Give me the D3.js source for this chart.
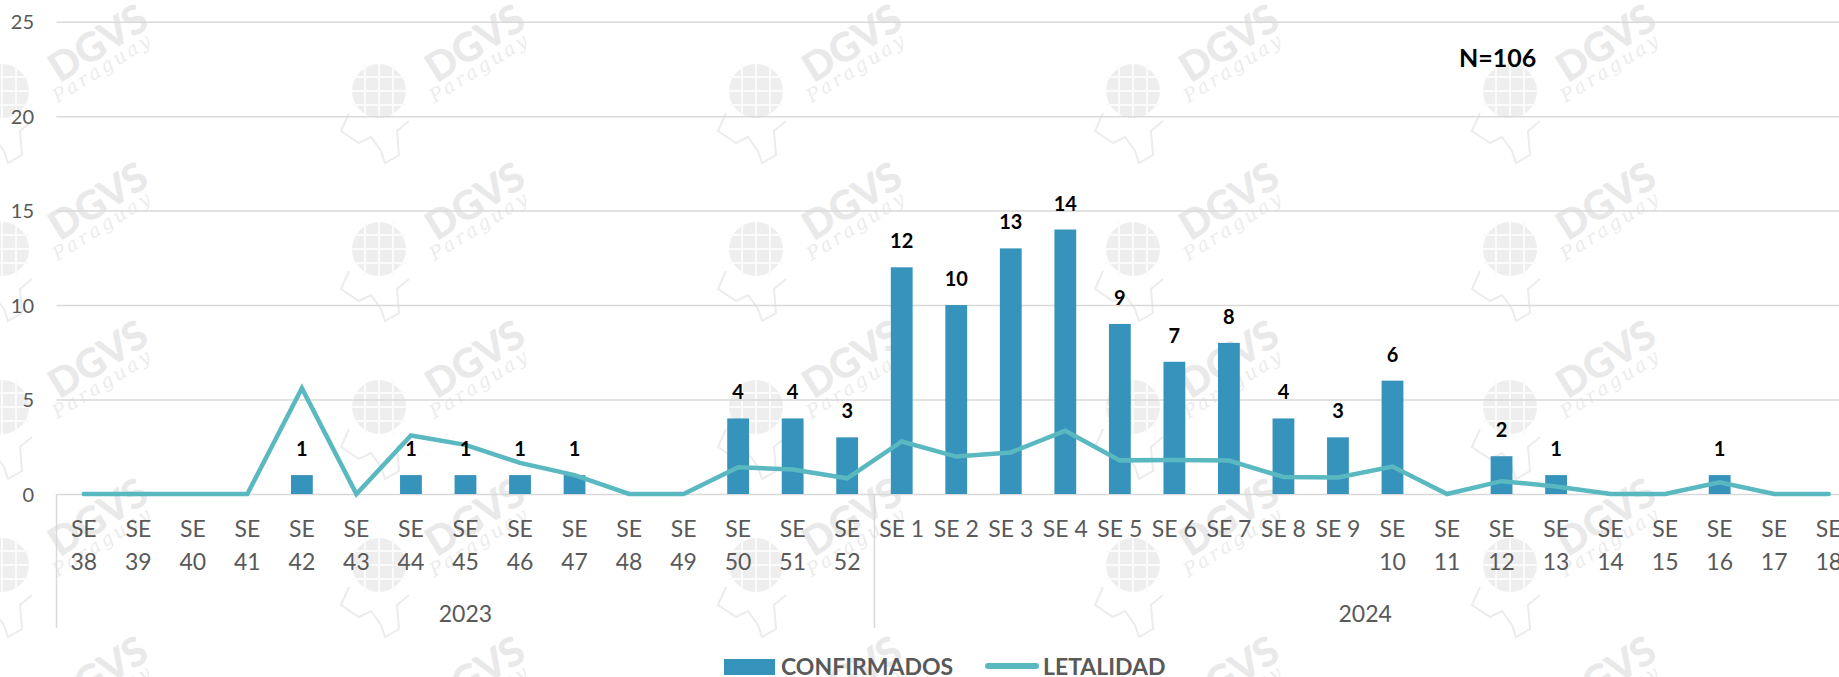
<!DOCTYPE html>
<html>
<head>
<meta charset="utf-8">
<script src="https://cdn.jsdelivr.net/npm/d3@7"></script>
<style>
  html, body { margin: 0; padding: 0; background: #ffffff; }
  svg { display: block; }
  text { font-family: Lato, "Open Sans", sans-serif; }
</style>
</head>
<body>
<svg id="chart" width="1839" height="677"></svg>
<script>
// ---------------- data ----------------
const yearLabels = ["2023", "2024"];
const weeks2023 = ["SE 38","SE 39","SE 40","SE 41","SE 42","SE 43","SE 44","SE 45","SE 46","SE 47","SE 48","SE 49","SE 50","SE 51","SE 52"];
const weeks2024 = ["SE 1","SE 2","SE 3","SE 4","SE 5","SE 6","SE 7","SE 8","SE 9","SE 10","SE 11","SE 12","SE 13","SE 14","SE 15","SE 16","SE 17","SE 18"];
const confirmados = [0,0,0,0,1,0,1,1,1,1,0,0,4,4,3,
                     12,10,13,14,9,7,8,4,3,6,0,2,1,0,0,1,0,0];
const letalidad   = [0,0,0,0,5.6,0,3.1,2.6,1.65,1.0,0,0,1.42,1.3,0.83,
                     2.78,1.98,2.2,3.35,1.78,1.8,1.77,0.9,0.88,1.45,0,0.68,0.4,0,0,0.62,0,0];
const yTicks = [0, 5, 10, 15, 20, 25];
const seriesNames = ["CONFIRMADOS", "LETALIDAD"];
const totalLabel = "N=106";

// ---------------- layout ----------------
const categories = weeks2023.concat(weeks2024);
const groups = [weeks2023, weeks2024];
const W = 1839, H = 677;
const left = 56.5, right = 1856, y0 = 494, yTop = 21.7;
const barColor = "#3693bb", lineColor = "#5ab8c1", gridColor = "#d9d9d9", textColor = "#595959";

const svg = d3.select("#chart");

// ---------------- watermark ----------------
const wm = svg.append("g").attr("class", "watermark");
for (let cx = 98; cx < W + 200; cx += 377) {
  for (let cy = 43; cy < H + 160; cy += 158) {
    const t = wm.append("g").attr("transform", `translate(${cx},${cy})`);
    // globe
    const gl = t.append("g").attr("transform", "translate(-96,48)");
    gl.append("path")
      .attr("d", "M-30,22 L-38,40 L-20,52 L-8,46 L2,60 L6,72 L20,64 L18,40 L30,30")
      .attr("fill", "none").attr("stroke", "#ececec").attr("stroke-width", 2);
    gl.append("circle").attr("r", 27).attr("fill", "#eeeeee");
    [-14, 0, 14].forEach(o => {
      gl.append("line").attr("x1", -27).attr("x2", 27).attr("y1", o).attr("y2", o)
        .attr("stroke", "#fbfbfb").attr("stroke-width", 2);
      gl.append("line").attr("y1", -27).attr("y2", 27).attr("x1", o).attr("x2", o)
        .attr("stroke", "#fbfbfb").attr("stroke-width", 2);
    });
    t.append("text").attr("transform", "rotate(-32)")
      .attr("text-anchor", "middle").attr("dy", "0.35em")
      .attr("font-size", 40).attr("font-weight", 900)
      .attr("fill", "#e9e9e9").text("DGVS");
    t.append("text").attr("transform", "translate(8,30) rotate(-32)")
      .attr("text-anchor", "middle")
      .style("font-family", "'DejaVu Serif', serif")
      .attr("font-size", 19).attr("font-style", "italic")
      .attr("letter-spacing", 3)
      .attr("fill", "#ececec").text("Paraguay");
  }
}

// ---------------- scales ----------------
const x = d3.scaleBand().domain(categories).range([left, right])
  .paddingInner(0.6).paddingOuter(0.3);
const y = d3.scaleLinear().domain([0, 25]).range([y0, yTop]);
const bw = x.bandwidth();
const cxOf = c => x(c) + bw / 2;

// ---------------- grid + y axis ----------------
const yAxis = d3.axisLeft(y).tickValues(yTicks).tickSize(-(W - left)).tickPadding(0);
const yg = svg.append("g").attr("transform", `translate(${left},0)`).call(yAxis);
yg.select(".domain").remove();
yg.selectAll(".tick line").attr("stroke", gridColor).attr("stroke-width", 1.5);
yg.selectAll(".tick text")
  .attr("x", 34 - left).attr("fill", textColor)
  .attr("font-size", 20).style("font-family", "Lato, sans-serif")
  .attr("text-anchor", "end").attr("dy", "0.36em");

// category axis separators
const boundaries = [left];
let acc = 0;
groups.forEach(g => { acc += g.length; boundaries.push(x(categories[acc - 1]) + bw / 2 + x.step() / 2); });
svg.append("g").selectAll("line").data(boundaries).join("line")
  .attr("x1", d => d).attr("x2", d => d).attr("y1", y0).attr("y2", 628)
  .attr("stroke", gridColor).attr("stroke-width", 1.5);

// ---------------- x axis labels ----------------
const xAxis = d3.axisBottom(x).tickSize(0);
const xg = svg.append("g").attr("transform", `translate(0,${y0})`).call(xAxis);
xg.select(".domain").remove();
xg.selectAll(".tick text").each(function(d) {
  const el = d3.select(this);
  el.text(null).attr("y", 0).attr("dy", null)
    .attr("fill", textColor).attr("font-size", 23)
    .style("font-family", "Lato, sans-serif");
  const parts = d.split(" ");
  if (parts[1].length >= 2) {
    el.append("tspan").attr("x", 0).attr("y", 43).text(parts[0]);
    el.append("tspan").attr("x", 0).attr("y", 76).text(parts[1]);
  } else {
    el.append("tspan").attr("x", 0).attr("y", 43).text(d);
  }
});

// year labels
let start = 0;
const yearPos = groups.map((g, i) => {
  const a = x(categories[start]) - (x.step() - bw) / 2;
  const b = x(categories[start + g.length - 1]) + bw + (x.step() - bw) / 2;
  start += g.length;
  return { label: yearLabels[i], cx: (a + b) / 2 };
});
svg.append("g").selectAll("text").data(yearPos).join("text")
  .attr("x", d => d.cx).attr("y", 622)
  .attr("text-anchor", "middle").attr("fill", textColor).attr("font-size", 23)
  .text(d => d.label);

// ---------------- bars ----------------
const barData = categories.map((c, i) => ({ c, v: confirmados[i] }));
svg.append("g").selectAll("rect").data(barData).join("rect")
  .attr("x", d => x(d.c)).attr("width", bw)
  .attr("y", d => y(d.v)).attr("height", d => y0 - y(d.v))
  .attr("fill", barColor);

// ---------------- line ----------------
const lineData = categories.map((c, i) => ({ c, v: letalidad[i] }));
svg.append("path").datum(lineData)
  .attr("d", d3.line().x(d => cxOf(d.c)).y(d => y(d.v)))
  .attr("fill", "none").attr("stroke", lineColor).attr("stroke-width", 4.5)
  .attr("stroke-linejoin", "miter").attr("stroke-miterlimit", 10)
  .attr("stroke-linecap", "round");

// ---------------- data labels ----------------
svg.append("g").selectAll("text").data(barData.filter(d => d.v > 0)).join("text")
  .attr("x", d => cxOf(d.c)).attr("y", d => y(d.v) - 19)
  .attr("text-anchor", "middle").attr("font-size", 20).attr("font-weight", 700)
  .attr("fill", "#000000").text(d => d.v);

// N label
svg.append("text").attr("x", 1459).attr("y", 66.5)
  .attr("font-size", 25).attr("font-weight", 700).attr("fill", "#000000")
  .text(totalLabel);

// ---------------- legend ----------------
const lg = svg.append("g");
lg.append("rect").attr("x", 724).attr("y", 659).attr("width", 51).attr("height", 16).attr("fill", barColor);
lg.append("text").attr("x", 781).attr("y", 675).attr("font-size", 23).attr("font-weight", 700)
  .attr("fill", textColor).text(seriesNames[0]);
lg.append("line").attr("x1", 988).attr("x2", 1036).attr("y1", 666).attr("y2", 666)
  .attr("stroke", lineColor).attr("stroke-width", 6).attr("stroke-linecap", "round");
lg.append("text").attr("x", 1043).attr("y", 675).attr("font-size", 23).attr("font-weight", 700)
  .attr("fill", textColor).text(seriesNames[1]);
</script>
</body>
</html>
